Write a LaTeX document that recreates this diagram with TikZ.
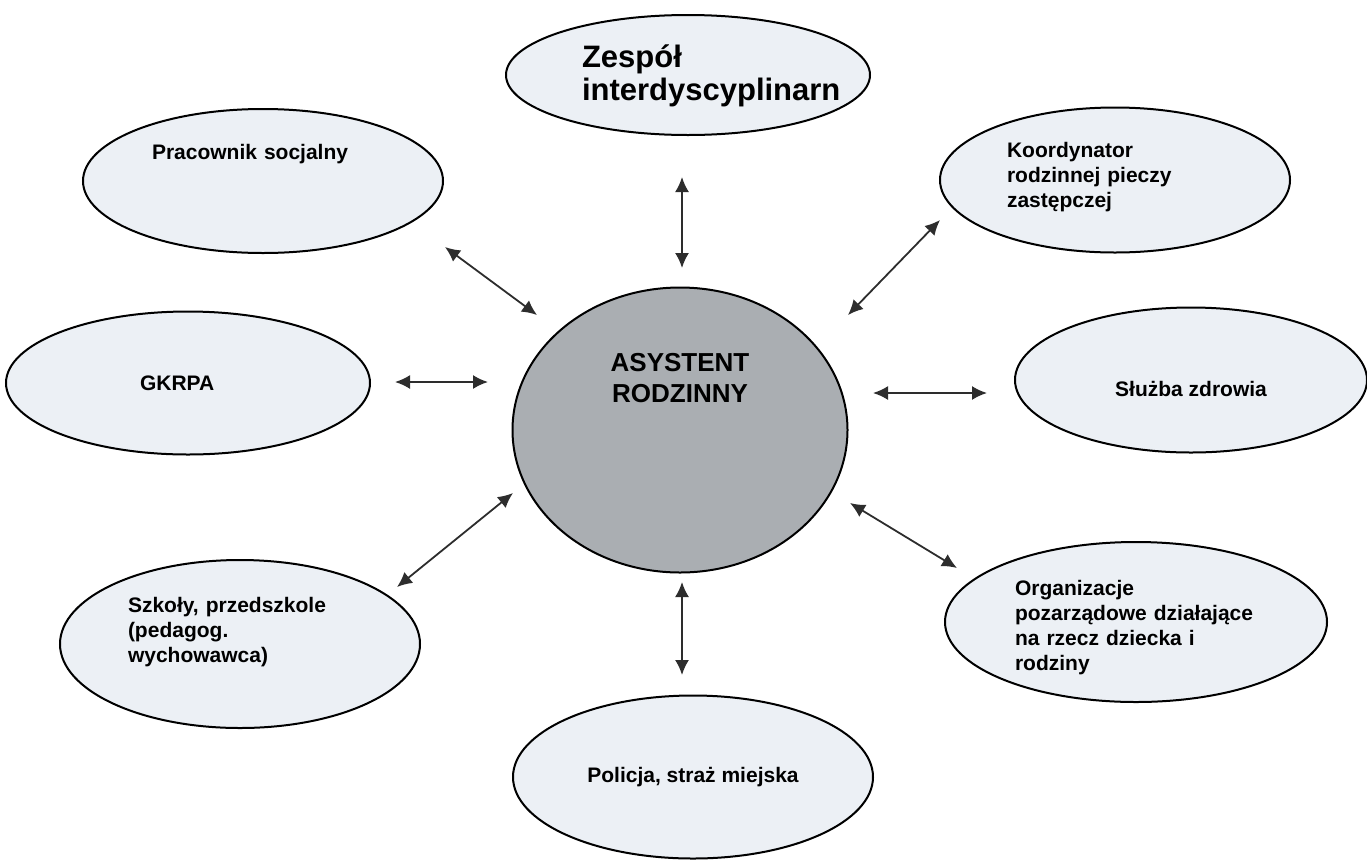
\documentclass[tikz,border=0pt]{standalone}
\usepackage{fontspec}
\setmainfont{Liberation Sans}
\usetikzlibrary{shapes.geometric,arrows.meta}
\definecolor{ovalfill}{RGB}{236,240,245}
\definecolor{corefill}{RGB}{170,174,178}
\definecolor{linkgray}{RGB}{45,45,45}
\begin{document}
\begin{tikzpicture}[x=1pt,y=-1pt,
 oval/.style={ellipse,draw=black,line width=2pt,fill=ovalfill,inner sep=0pt,align=left,font=\bfseries\fontsize{21}{25}\selectfont},
 link/.style={draw=linkgray,fill=linkgray,line width=1.8pt,{Latex[length=15pt,width=14pt]}-{Latex[length=15pt,width=14pt]}}]
 \useasboundingbox (0,0) rectangle (1367,860);
 \node[oval,fill=corefill,minimum width=335pt,minimum height=285pt,align=center,font=\bfseries\fontsize{26}{31}\selectfont,text height=19pt,text depth=75pt] (asyst) at (680,430) {ASYSTENT\\RODZINNY};
 \node[oval,minimum width=364pt,minimum height=120pt,text width=212pt,text height=23pt,text depth=39pt,font=\bfseries\fontsize{31}{33}\selectfont] (zesp) at (688,75) {Zespół\\interdyscyplinarn};
 \node[oval,minimum width=360pt,minimum height=144pt,text width=222pt,text height=15pt,text depth=59pt] (prac) at (263,181) {Pracownik socjalny};
 \node[oval,minimum width=350pt,minimum height=145pt,text width=216pt,text height=15pt,text depth=61pt] (koord) at (1115,180) {Koordynator\\rodzinnej pieczy\\zastępczej};
 \node[oval,minimum width=364pt,minimum height=143pt,text width=96pt,text height=15pt,text depth=0pt] (gkrpa) at (188,383) {GKRPA};
 \node[oval,minimum width=352pt,minimum height=145pt,align=center,text height=33pt,text depth=0pt] (sluzba) at (1191,380) {Służba zdrowia};
 \node[oval,minimum width=360pt,minimum height=168pt,text width=224pt,text height=15pt,text depth=79pt] (szkoly) at (240,644) {Szkoły, przedszkole\\(pedagog.\\wychowawca)};
 \node[oval,minimum width=382pt,minimum height=160pt,text width=242pt,text height=15pt,text depth=69pt] (org) at (1136,622) {Organizacje\\pozarządowe działające\\na rzecz dziecka i\\rodziny};
 \node[oval,minimum width=360pt,minimum height=163pt,align=center,text height=15pt,text depth=4pt] (pol) at (693,777) {Policja, straż miejska};
 \coordinate (zesp-a) at (682,177);
 \coordinate (zesp-b) at (682,268);
 \coordinate (prac-a) at (445,247);
 \coordinate (prac-b) at (537,315);
 \coordinate (koord-a) at (940,220);
 \coordinate (koord-b) at (848,315);
 \coordinate (gkrpa-a) at (395,382);
 \coordinate (gkrpa-b) at (488,382);
 \coordinate (sluzba-a) at (873,393);
 \coordinate (sluzba-b) at (987,393);
 \coordinate (szkoly-a) at (397,587);
 \coordinate (szkoly-b) at (513,493);
 \coordinate (org-a) at (957,568);
 \coordinate (org-b) at (850,503);
 \coordinate (pol-a) at (682,582);
 \coordinate (pol-b) at (682,675);
 \draw[link] (zesp-a)--(zesp-b);
 \draw[link] (prac-a)--(prac-b);
 \draw[link] (koord-a)--(koord-b);
 \draw[link] (gkrpa-a)--(gkrpa-b);
 \draw[link] (sluzba-a)--(sluzba-b);
 \draw[link] (szkoly-a)--(szkoly-b);
 \draw[link] (org-a)--(org-b);
 \draw[link] (pol-a)--(pol-b);
\end{tikzpicture}
\end{document}
